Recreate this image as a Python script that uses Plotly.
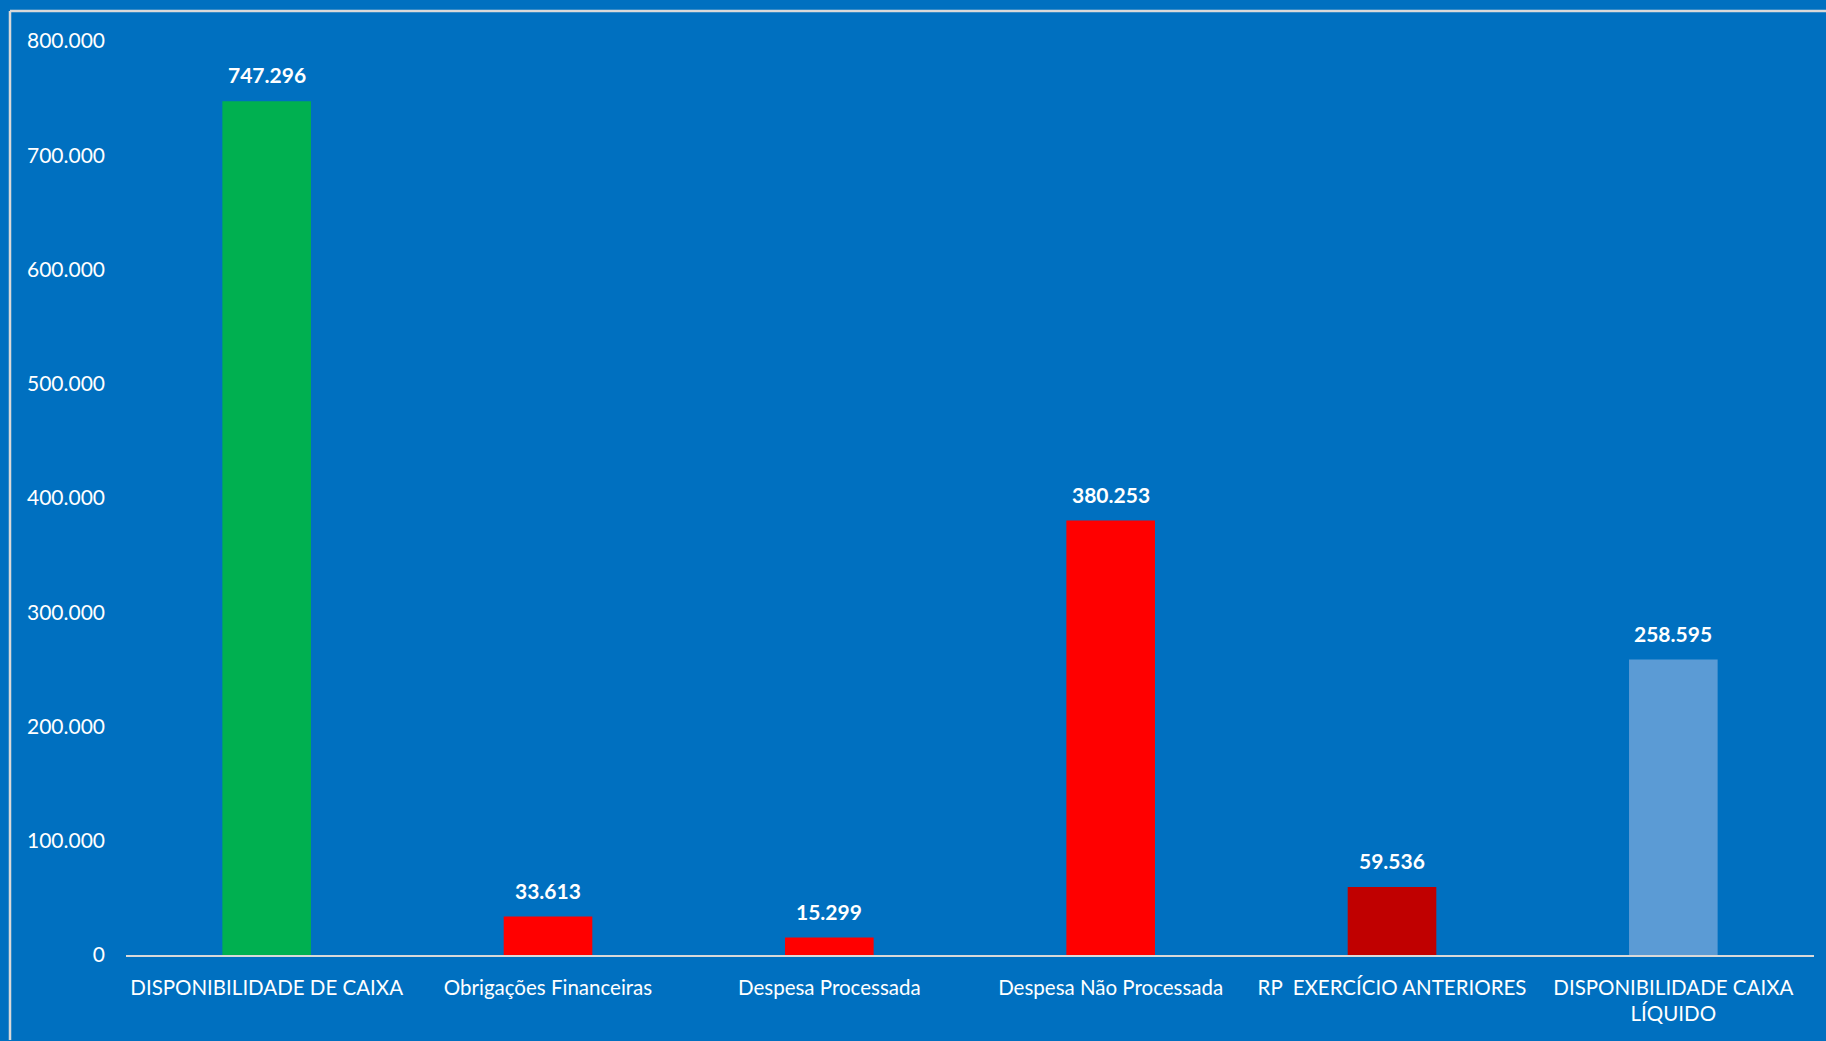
import plotly.graph_objects as go

categories = ["DISPONIBILIDADE DE CAIXA", "Obrigações Financeiras", "Despesa Processada",
              "Despesa Não Processada", "RP  EXERCÍCIO ANTERIORES", "DISPONIBILIDADE CAIXA<br>LÍQUIDO"]
values = [747296, 33613, 15299, 380253, 59536, 258595]
colors = ["#00B050", "#FF0000", "#FF0000", "#FF0000", "#C00000", "#5B9BD5"]
y_ticks = [0, 100000, 200000, 300000, 400000, 500000, 600000, 700000, 800000]

BG = "#0070C0"
FONT = "Lato, 'Open Sans', sans-serif"

def fmt(v):
    return f"{v:,}".replace(",", ".")

fig = go.Figure()
fig.add_trace(go.Bar(x=categories, y=values, marker=dict(color=colors, line=dict(width=0)),
                     hoverinfo="skip"))

for c, v in zip(categories, values):
    fig.add_annotation(x=c, y=v, text=f"<b>{fmt(v)}</b>", showarrow=False,
                       yanchor="bottom", yshift=12,
                       font=dict(family=FONT, size=21, color="white"))

# outer frame (left and top edges), positioned in paper units relative to the plot area
fx = (10 - 126) / 1688
fy = (955 - 11) / 914
fb = (955 - 1040) / 914
fig.add_shape(type="line", xref="paper", yref="paper", x0=fx, x1=fx, y0=fb, y1=fy,
              line=dict(color="#D9D9D9", width=2.5), layer="above")
fig.add_shape(type="line", xref="paper", yref="paper", x0=fx, x1=1.05, y0=fy, y1=fy,
              line=dict(color="#D9D9D9", width=2.5), layer="above")

fig.update_layout(
    width=1826, height=1041,
    paper_bgcolor=BG, plot_bgcolor=BG,
    margin=dict(l=126, r=12, t=41, b=86),
    bargap=0.685,
    separators=",.",
    showlegend=False,
    font=dict(family=FONT, size=21, color="white"),
    xaxis=dict(showgrid=False, showline=True, linecolor="#D9D9D9", linewidth=2,
               ticks="", tickfont=dict(family=FONT, size=20.5, color="white"),
               ticklabelstandoff=13),
    yaxis=dict(range=[0, 800000], tickvals=y_ticks, tickformat=",d", showgrid=False,
               zeroline=False, showline=False, ticks="",
               tickfont=dict(family=FONT, size=21, color="white"),
               ticklabelstandoff=20),
)

fig.write_html("out.html", config={"displayModeBar": False},
               post_script="document.body.style.margin='0';document.body.style.overflow='hidden';")
